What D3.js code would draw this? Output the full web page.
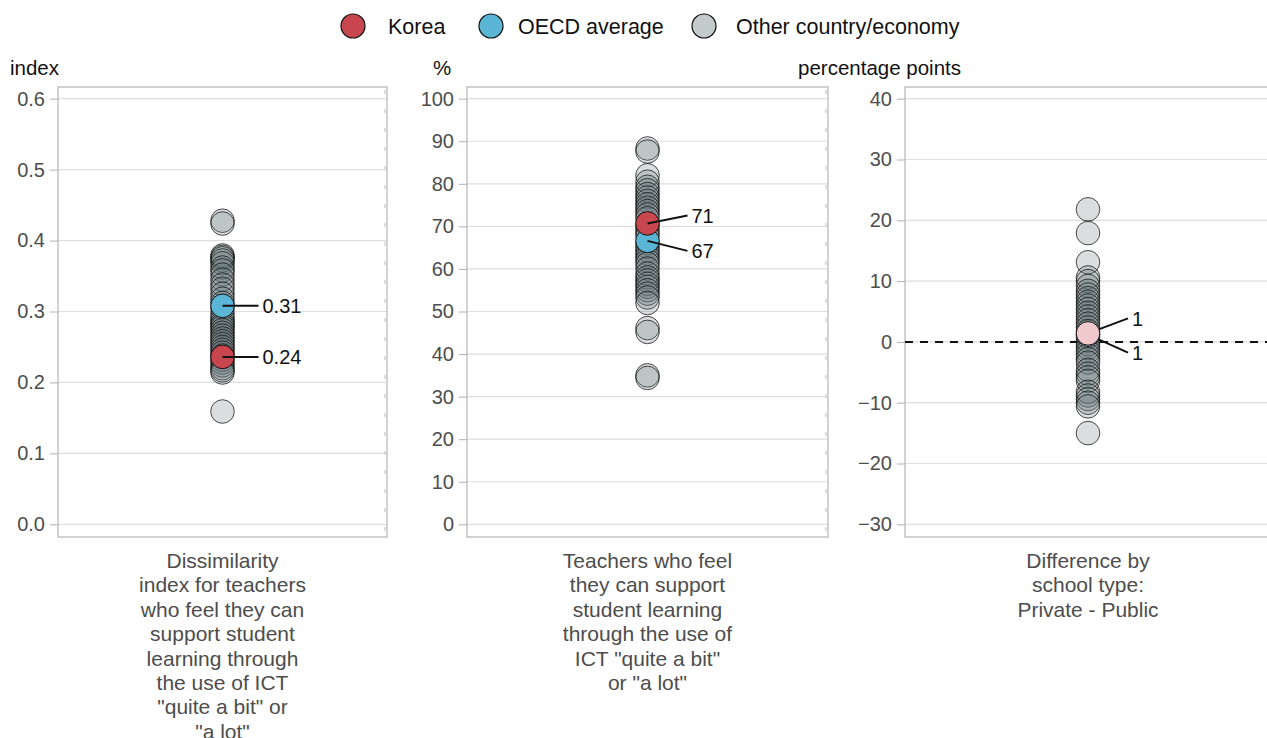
<!DOCTYPE html>
<html>
<head>
  <meta charset="utf-8">
  <script src="https://cdn.jsdelivr.net/npm/d3@7"></script>
  <style>
    body { margin: 0; background: #fff; }
    text { font-family: "Liberation Sans", Arial, sans-serif; }
  </style>
</head>
<body>
  <script>
    var width = 1267, height = 738;

    // legend entries
    var legendNames = ["Korea", "OECD average", "Other country/economy"];
    var legendColors = ["#c8474f", "#5bb5d5", "#c3cacc"];

    // panel 1: dissimilarity index
    var p1Others = [0.428, 0.424, 0.379, 0.377, 0.375, 0.372, 0.368, 0.362, 0.358, 0.352,
      0.345, 0.338, 0.332, 0.325, 0.318, 0.312, 0.305, 0.298, 0.292, 0.288, 0.284, 0.281,
      0.278, 0.274, 0.270, 0.266, 0.262, 0.258, 0.254, 0.250, 0.246, 0.242, 0.238, 0.232,
      0.228, 0.224, 0.220, 0.217, 0.214, 0.159];
    var p1Korea = 0.236, p1Oecd = 0.308;
    var p1Ticks = [0, 0.1, 0.2, 0.3, 0.4, 0.5, 0.6];

    // panel 2: % teachers
    var p2Others = [88.3, 87.6, 82.0, 80.5, 79.3, 78.5, 77.6, 76.8, 76.0, 75.2, 74.4, 73.6,
      72.8, 71.9, 70.2, 69.3, 68.5, 67.8, 66.0, 65.2, 64.4, 63.6, 62.8, 62.0, 61.2, 60.1,
      58.9, 58.0, 57.3, 56.5, 55.8, 55.0, 54.2, 53.3, 52.0, 46.1, 45.2, 35.0, 34.4];
    var p2Korea = 70.7, p2Oecd = 66.6;
    var p2Ticks = [0, 10, 20, 30, 40, 50, 60, 70, 80, 90, 100];

    // panel 3: difference private - public
    var p3Others = [21.8, 17.9, 13.1, 10.6, 10.0, 9.2, 8.4, 7.8, 7.2, 6.6, 6.0, 5.4, 4.8,
      4.2, 3.6, 3.0, 2.4, 1.8, 0.8, 0.2, -0.4, -1.0, -1.6, -2.2, -2.8, -3.4, -4.6, -5.2,
      -5.8, -6.4, -8.2, -8.8, -9.4, -10.0, -10.6, -15.0];
    var p3Korea = 1.4, p3Oecd = 1.2;
    var p3Ticks = [-30, -20, -10, 0, 10, 20, 30, 40];

    var panels = [
      { x0: 58, x1: 387, domain: [0, 0.6], ticks: p1Ticks, fmt: d3.format(".1f"),
        unit: "index", unitX: 10, others: p1Others, korea: p1Korea, oecd: p1Oecd,
        koreaLabel: "0.24", oecdLabel: "0.31", koreaFill: "#c8474f", oecdFill: "#5bb5d5",
        koreaLab: [36, 0], oecdLab: [36, 0], lineFromEdge: false, zeroLine: false,
        dashedRight: true,
        title: ["Dissimilarity", "index for teachers", "who feel they can", "support student",
                "learning through", "the use of ICT", "\"quite a bit\" or", "\"a lot\""] },
      { x0: 467, x1: 828, domain: [0, 100], ticks: p2Ticks, fmt: d3.format("d"),
        unit: "%", unitX: 433, others: p2Others, korea: p2Korea, oecd: p2Oecd,
        koreaLab: [40, -8], oecdLab: [40, 10], koreaLabel: "71", oecdLabel: "67",
        koreaFill: "#c8474f", oecdFill: "#5bb5d5", lineFromEdge: false, zeroLine: false,
        dashedRight: true,
        title: ["Teachers who feel", "they can support", "student learning",
                "through the use of", "ICT \"quite a bit\"", "or \"a lot\""] },
      { x0: 905, x1: 1272, domain: [-30, 40], ticks: p3Ticks, fmt: d3.format("d"),
        unit: "percentage points", unitX: 798, others: p3Others, korea: p3Korea, oecd: p3Oecd,
        koreaLabel: "1", oecdLabel: "1", koreaFill: "#f0c9cc", oecdFill: "#b9dfee",
        koreaLab: [40, -15], oecdLab: [40, 18], lineFromEdge: true, zeroLine: true,
        dashedRight: false,
        title: ["Difference by", "school type:", "Private - Public"] }
    ];

    var plotTop = 87, plotBottom = 537;

    var svg = d3.select("body")
      .append("svg")
      .attr("width", width)
      .attr("height", height);

    // legend
    var legendX = [353, 491, 704];
    var legendTextX = [388, 518, 736];
    var leg = svg.append("g")
      .selectAll("g")
      .data(legendNames)
      .enter().append("g");
    leg.append("circle")
      .attr("cx", (d, i) => legendX[i])
      .attr("cy", 26)
      .attr("r", 12)
      .attr("fill", (d, i) => legendColors[i])
      .attr("stroke", "#111")
      .attr("stroke-width", 1.2);
    leg.append("text")
      .attr("x", (d, i) => legendTextX[i])
      .attr("y", 26)
      .attr("dy", "0.36em")
      .style("font-size", "21.5px")
      .style("fill", "#111")
      .text(d => d);

    panels.forEach(function(p) {
      var y = d3.scaleLinear().domain(p.domain).range([524.3, 98.7]);
      var cx = Math.min((p.x0 + p.x1) / 2, 1088);
      var g = svg.append("g");

      // gridlines
      g.append("g")
        .selectAll("line")
        .data(p.ticks)
        .enter().append("line")
        .attr("x1", p.x0).attr("x2", p.x1)
        .attr("y1", d => y(d)).attr("y2", d => y(d))
        .attr("stroke", "#dedede")
        .attr("stroke-width", 1.2);

      // frame
      g.append("rect")
        .attr("x", p.x0).attr("y", plotTop)
        .attr("width", p.x1 - p.x0).attr("height", plotBottom - plotTop)
        .attr("fill", "none")
        .attr("stroke", "#c4c4c4")
        .attr("stroke-width", 1.5);
      if (p.dashedRight) {
        g.append("line")
          .attr("x1", p.x1 - 2).attr("x2", p.x1 - 2)
          .attr("y1", plotTop + 3).attr("y2", plotBottom - 3)
          .attr("stroke", "#d4d4d4")
          .attr("stroke-width", 1.5)
          .attr("stroke-dasharray", "4,15");
      }

      // axis
      var axis = d3.axisLeft(y).tickValues(p.ticks).tickFormat(p.fmt).tickSize(8).tickPadding(5);
      var ag = g.append("g").attr("transform", "translate(" + p.x0 + ",0)").call(axis);
      ag.select(".domain").remove();
      ag.selectAll(".tick line").attr("stroke", "#b0b0b0");
      ag.selectAll(".tick text")
        .style("font-size", "20px")
        .style("fill", "#4d4d4d")
        .style("font-family", "'Liberation Sans', Arial, sans-serif");

      // unit label
      g.append("text")
        .attr("x", p.unitX).attr("y", 75)
        .style("font-size", "20.5px")
        .style("fill", "#111")
        .text(p.unit);

      // zero line
      if (p.zeroLine) {
        g.append("line")
          .attr("x1", p.x0).attr("x2", p.x1)
          .attr("y1", y(0)).attr("y2", y(0))
          .attr("stroke", "#111")
          .attr("stroke-width", 2)
          .attr("stroke-dasharray", "8,7");
      }

      // other countries
      g.append("g")
        .selectAll("circle")
        .data(p.others)
        .enter().append("circle")
        .attr("cx", cx)
        .attr("cy", d => y(d))
        .attr("r", 11.8)
        .attr("fill", "#66767a")
        .attr("fill-opacity", 0.24)
        .attr("stroke", "#111")
        .attr("stroke-opacity", 0.75)
        .attr("stroke-width", 1);

      var highlights = [
        { v: p.oecd, fill: p.oecdFill, label: p.oecdLabel, off: p.oecdLab },
        { v: p.korea, fill: p.koreaFill, label: p.koreaLabel, off: p.koreaLab }
      ];

      function drawLines() {
        highlights.forEach(function(h) {
          g.append("line")
            .attr("x1", cx).attr("y1", y(h.v))
            .attr("x2", cx + h.off[0]).attr("y2", y(h.v) + h.off[1])
            .attr("stroke", "#111")
            .attr("stroke-width", 2);
        });
      }
      if (p.lineFromEdge) drawLines();

      highlights.forEach(function(h) {
        g.append("circle")
          .attr("cx", cx).attr("cy", y(h.v))
          .attr("r", 11.8)
          .attr("fill", h.fill)
          .attr("stroke", "#111")
          .attr("stroke-width", 1);
      });
      if (!p.lineFromEdge) drawLines();

      highlights.forEach(function(h) {
        g.append("text")
          .attr("x", cx + h.off[0] + 4)
          .attr("y", y(h.v) + h.off[1])
          .attr("dy", "0.36em")
          .style("font-size", "20px")
          .style("fill", "#111")
          .text(h.label);
      });

      // category title
      g.append("text")
        .attr("text-anchor", "middle")
        .style("font-size", "21px")
        .style("fill", "#4d4d4d")
        .selectAll("tspan")
        .data(p.title)
        .enter().append("tspan")
        .attr("x", cx)
        .attr("y", (d, i) => 568 + i * 24.4)
        .text(d => d);
    });
  </script>
</body>
</html>
